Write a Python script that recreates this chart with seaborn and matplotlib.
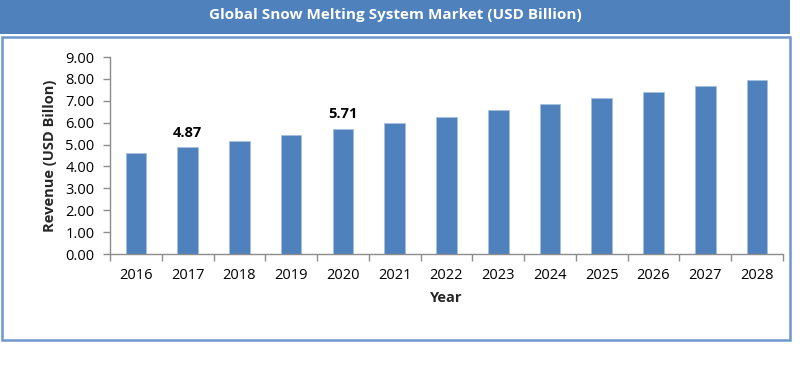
import matplotlib
matplotlib.use('Agg')
import matplotlib.pyplot as plt
import seaborn as sns
import pandas as pd
from matplotlib.patches import Rectangle

# Data
years = ['2016', '2017', '2018', '2019', '2020', '2021', '2022',
         '2023', '2024', '2025', '2026', '2027', '2028']
revenue = [4.60, 4.87, 5.15, 5.43, 5.71, 6.00, 6.28,
           6.56, 6.84, 7.12, 7.40, 7.68, 7.96]
labelled_years = ['2017', '2020']

title = 'Global Snow Melting System Market (USD Billion)'
blue = '#4F81BD'

sns.set_theme(style='white')
plt.rcParams['font.family'] = ['Open Sans', 'DejaVu Sans']

df = pd.DataFrame({'Year': years, 'Revenue': revenue})

fig = plt.figure(figsize=(8, 3.84), dpi=100)
ax = fig.add_axes([0.1375, 0.3385, 0.841, 0.513])

sns.barplot(data=df, x='Year', y='Revenue', color=blue, width=0.4,
            saturation=1, edgecolor='#A7C0DE', linewidth=0.6, ax=ax)

# Value labels on selected bars
for i, year in enumerate(years):
    if year in labelled_years:
        ax.text(i, revenue[i] + 0.35, f'{revenue[i]:.2f}', ha='center',
                va='bottom', fontsize=10.5, fontweight='bold', color='black')

ax.set_ylim(0, 9)
ax.set_xlim(-0.5, len(years) - 0.5)
ax.set_yticks(range(0, 10))
ax.set_yticklabels([f'{v:.2f}' for v in range(0, 10)])
ax.set_xticks(range(len(years)))
ax.set_xticklabels(years)
ax.tick_params(axis='both', labelsize=10.5, colors='black', length=0, pad=6)
ax.tick_params(axis='x', pad=10)

# Category separator ticks on the x axis
ax.set_xticks([i - 0.5 for i in range(len(years) + 1)], minor=True)
ax.tick_params(axis='x', which='minor', direction='out', length=5,
               color='#8C8C8C', width=1, bottom=True)
ax.tick_params(axis='y', direction='out', length=5, color='#8C8C8C', width=1, left=True)

for side in ['top', 'right']:
    ax.spines[side].set_visible(False)
for side in ['left', 'bottom']:
    ax.spines[side].set_color('#8C8C8C')
    ax.spines[side].set_linewidth(1)

ax.set_xlabel('Year', fontsize=10.5, fontweight='bold', labelpad=6)
ax.set_ylabel('Revenue (USD Billon)', fontsize=10.5, fontweight='bold', labelpad=6)

# Title banner and outer frame
fig.patches.append(Rectangle((0, 1 - 34 / 384), 790 / 800, 34 / 384,
                             transform=fig.transFigure, facecolor=blue,
                             edgecolor='none', zorder=0))
fig.patches.append(Rectangle((2 / 800, 1 - 340 / 384), 788 / 800, 303 / 384,
                             transform=fig.transFigure, facecolor='none',
                             edgecolor='#6E98CC', linewidth=1.8, zorder=0))
fig.text(395 / 800, 1 - 15 / 384, title, ha='center', va='center',
         color='white', fontsize=11, fontweight='bold')

fig.savefig('out.png', dpi=100)
plt.close(fig)
